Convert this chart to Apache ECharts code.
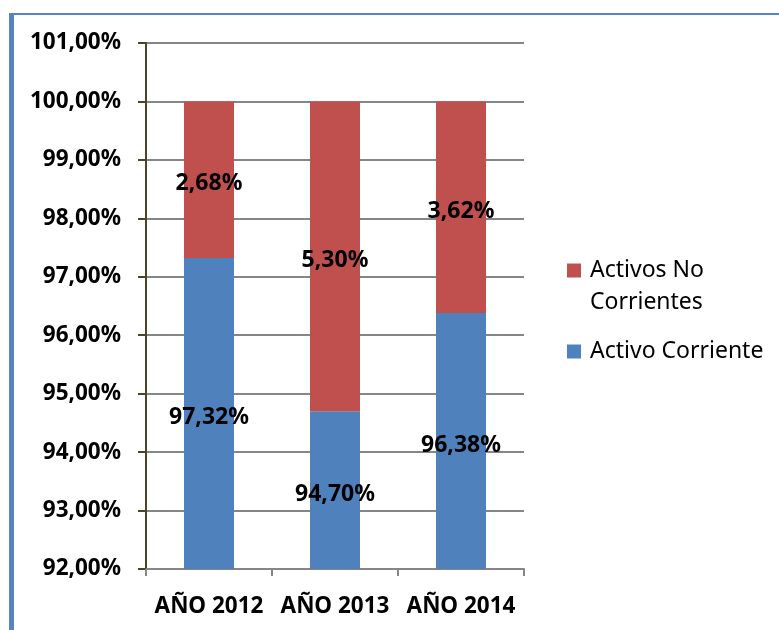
<!DOCTYPE html>
<html>
<head>
<meta charset="utf-8">
<script src="https://cdn.jsdelivr.net/npm/echarts@6/dist/echarts.min.js"></script>
<style>
  html, body { margin: 0; padding: 0; background: #fff; }
  #chart { width: 779px; height: 630px; }
</style>
</head>
<body>
<div id="chart"></div>
<script>
// Composition of assets by year (percent of total)
const years = ['AÑO 2012', 'AÑO 2013', 'AÑO 2014'];
const activoCorriente = [97.32, 94.70, 96.38];
const activosNoCorrientes = [2.68, 5.30, 3.62];
const yTicks = { min: 92, max: 101, step: 1 };

const FONT = '"Noto Sans", "DejaVu Sans", sans-serif';
const pct = v => v.toFixed(2).replace('.', ',') + '%';

const chart = echarts.init(document.getElementById('chart'), null, { renderer: 'canvas' });

const valueLabel = {
  show: true,
  position: 'inside',
  offset: [0, 4],
  color: '#000',
  fontFamily: FONT,
  fontWeight: 'bold',
  fontSize: 23,
  formatter: p => pct(p.value)
};

// legend text style: small indent after the swatch
const legendRich = { t: { fontFamily: FONT, fontSize: 23, color: '#000', lineHeight: 32, padding: [0, 0, 0, 4] } };

chart.setOption({
  animation: false,
  backgroundColor: '#fff',
  grid: { left: 146, right: 255, top: 43, bottom: 61, containLabel: false },
  graphic: [
    { type: 'rect', shape: { x: 9, y: 13, width: 770, height: 2 }, style: { fill: '#5584BF' }, silent: true },
    { type: 'rect', shape: { x: 9, y: 13, width: 5, height: 617 }, style: { fill: '#5584BF' }, silent: true }
  ],
  legend: [
    {
      left: 567, top: 227, padding: 0,
      orient: 'vertical',
      itemWidth: 14, itemHeight: 14,
      icon: 'rect',
      data: ['Activos No Corrientes'],
      // blank first line keeps the swatch level with "Activos No"
      formatter: () => '{t| }\n{t|Activos No}\n{t|Corrientes}',
      textStyle: { rich: legendRich }
    },
    {
      left: 567, top: 340, padding: 0,
      orient: 'vertical',
      itemWidth: 14, itemHeight: 14,
      icon: 'rect',
      data: ['Activo Corriente'],
      formatter: name => '{t|' + name + '}',
      textStyle: { rich: legendRich }
    }
  ],
  xAxis: {
    type: 'category',
    data: years,
    axisLine: { show: true, lineStyle: { color: '#868686', width: 2 } },
    axisTick: { show: true, length: 7, lineStyle: { color: '#868686', width: 2 } },
    axisLabel: { interval: 0, color: '#000', fontFamily: FONT, fontWeight: 'bold', fontSize: 22.5, margin: 26 }
  },
  yAxis: {
    type: 'value',
    min: yTicks.min,
    max: yTicks.max,
    interval: yTicks.step,
    axisLine: { show: true, lineStyle: { color: '#4A452A', width: 2 } },
    axisTick: { show: true, length: 8, lineStyle: { color: '#4A452A', width: 2 } },
    splitLine: { show: true, lineStyle: { color: '#868686', width: 2 } },
    axisLabel: { color: '#000', fontFamily: FONT, fontWeight: 'bold', fontSize: 22.5, margin: 25, formatter: v => pct(v) }
  },
  series: [
    {
      name: 'Activo Corriente',
      type: 'bar',
      stack: 'total',
      barWidth: 50,
      data: activoCorriente,
      itemStyle: { color: '#4F81BD' },
      label: valueLabel
    },
    {
      name: 'Activos No Corrientes',
      type: 'bar',
      stack: 'total',
      barWidth: 50,
      data: activosNoCorrientes,
      itemStyle: { color: '#C0504D' },
      label: valueLabel
    }
  ]
});
</script>
</body>
</html>
